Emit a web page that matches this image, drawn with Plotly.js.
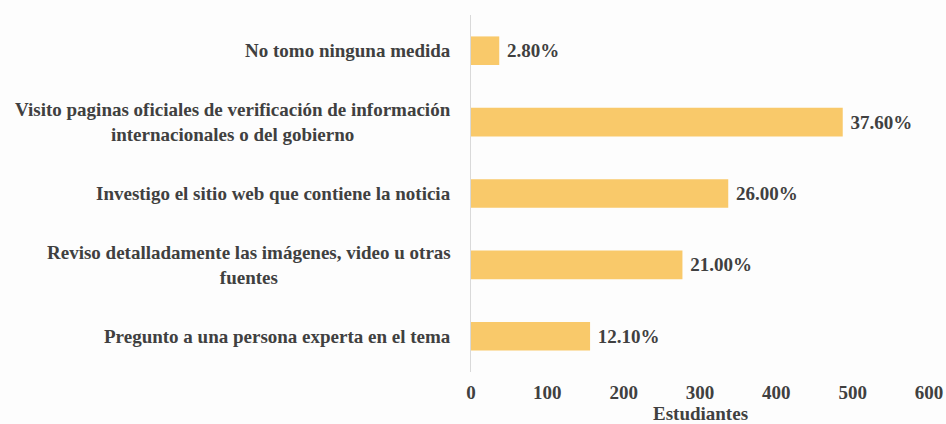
<!DOCTYPE html>
<html>
<head>
<meta charset="utf-8">
<script src="https://cdn.plot.ly/plotly-3.0.1.min.js"></script>
<style>
  html, body { margin: 0; padding: 0; background: #fdfdfd; }
  #chart { width: 946px; height: 424px; }
</style>
</head>
<body>
<div id="chart"></div>
<script>
// Categories, top to bottom as in the picture
const categories = [
    'No tomo ninguna medida',
    'Visito paginas oficiales de verificación de información<br>internacionales o del gobierno',
    'Investigo el sitio web que contiene la noticia',
    'Reviso detalladamente las imágenes, video u otras<br>fuentes',
    'Pregunto a una persona experta en el tema'
];
const students = [37, 487, 337, 277, 156];
const percentLabels = ['2.80%', '37.60%', '26.00%', '21.00%', '12.10%'];
const xTicks = [0, 100, 200, 300, 400, 500, 600];
const xTitle = 'Estudiantes';

const textColor = '#404040';
const fontFamily = '"Liberation Serif", "Times New Roman", serif';
const boldFont = { family: fontFamily, size: 19, color: textColor, weight: 'bold' };

const trace = {
    type: 'bar',
    orientation: 'h',
    x: students,
    y: categories,
    width: 0.4,
    marker: { color: '#f9c96a' },
    text: percentLabels,
    texttemplate: ' %{text}',
    textposition: 'outside',
    cliponaxis: false,
    textfont: boldFont,
    hoverinfo: 'skip'
};

// category labels as annotations so the two-line ones stay centred
const labelNotes = categories.map(c => ({
    xref: 'paper', yref: 'y',
    x: 0, y: c,
    xanchor: 'right', yanchor: 'middle',
    xshift: -18,
    align: 'center',
    showarrow: false,
    text: c,
    font: boldFont
}));

// axis title sits a bit lower than plotly's margin allows
labelNotes.push({
    xref: 'paper', yref: 'paper',
    x: 0.5, y: -0.117,
    xanchor: 'center', yanchor: 'middle',
    showarrow: false,
    text: xTitle,
    font: boldFont
});

const layout = {
    width: 946,
    height: 424,
    margin: { l: 471, r: 17, t: 15, b: 52 },
    paper_bgcolor: '#fdfdfd',
    plot_bgcolor: '#fdfdfd',
    showlegend: false,
    font: boldFont,
    xaxis: {
        range: [0, 600],
        tickvals: xTicks,
        showgrid: false,
        zeroline: false,
        showline: false,
        ticks: '',
        ticklabelstandoff: 7,
        tickfont: boldFont
    },
    yaxis: {
        type: 'category',
        autorange: 'reversed',
        showticklabels: false,
        showgrid: false,
        zeroline: false,
        showline: true,
        linecolor: '#d9d9d9',
        linewidth: 1,
        ticks: ''
    },
    annotations: labelNotes
};

Plotly.newPlot('chart', [trace], layout, { staticPlot: true, displayModeBar: false });
</script>
</body>
</html>
